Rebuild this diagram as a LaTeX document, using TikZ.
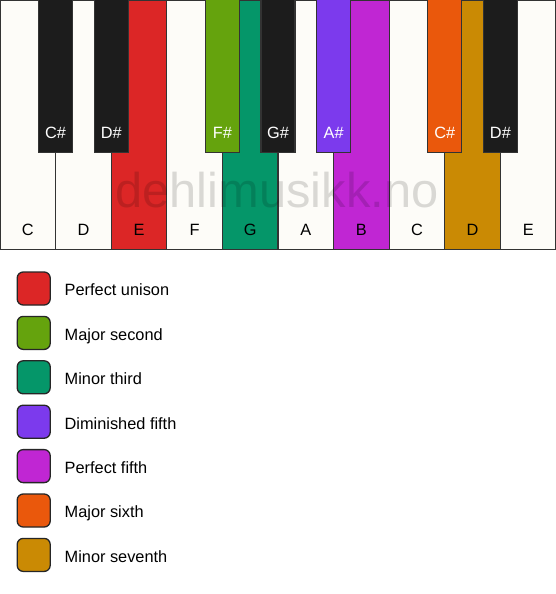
\documentclass[tikz,border=0pt]{standalone}
\usepackage{fontspec}
\setmainfont{Liberation Sans}
\begin{document}
\begin{tikzpicture}[x=1bp,y=-1bp,
  whitekey/.style={draw=black!80,line width=1.3bp,fill=keywhite},
  blackkey/.style={draw=black!80,line width=1.3bp,fill=keyblack},
  wlabel/.style={font=\fontsize{16.4}{18}\selectfont,text=black,anchor=base,inner sep=0pt},
  blabel/.style={font=\fontsize{16.4}{18}\selectfont,text=white,anchor=base,inner sep=0pt},
  legbox/.style={draw=black!85,line width=1.3bp,rounded corners=6bp,minimum width=33bp,minimum height=33bp,inner sep=0pt},
  legtext/.style={font=\fontsize{16.4}{18}\selectfont,anchor=base west,inner sep=0pt}]
\definecolor{keywhite}{HTML}{FDFCF8}
\definecolor{keyblack}{HTML}{1C1C1C}
\definecolor{ivred}{HTML}{DC2626}
\definecolor{ivlime}{HTML}{65A30D}
\definecolor{ivemerald}{HTML}{059669}
\definecolor{ivviolet}{HTML}{7C3AED}
\definecolor{ivfuchsia}{HTML}{C026D3}
\definecolor{ivorange}{HTML}{EA580C}
\definecolor{ivyellow}{HTML}{CA8A04}
\useasboundingbox (0,0) rectangle (556,594);
\fill[white] (0,0) rectangle (556,594);
% white keys
\def\w{55.6}
\foreach \i/\n/\c in {0/C/keywhite,1/D/keywhite,2/E/ivred,3/F/keywhite,4/G/ivemerald,5/A/keywhite,6/B/ivfuchsia,7/C/keywhite,8/D/ivyellow,9/E/keywhite}{
  \draw[whitekey,fill=\c] (\i*\w,0) rectangle ({(\i+1)*\w},249.5);
  \node[wlabel] (w\i) at ({(\i+0.5)*\w},235.8) {\n};
}
% watermark
\node[font=\fontsize{49}{50}\selectfont,text=black,opacity=0.14,anchor=base,inner sep=0pt] (wm) at (277,207) {dehlimusikk.no};
% black keys
\foreach \k/\n/\c in {1/C\#/keyblack,2/D\#/keyblack,4/F\#/ivlime,5/G\#/keyblack,6/A\#/ivviolet,8/C\#/ivorange,9/D\#/keyblack}{
  \draw[blackkey,fill=\c] ({\k*\w-17},-1) rectangle ({\k*\w+17},152.5);
  \node[blabel] (b\k) at ({\k*\w},139) {\n};
}
% legend
\foreach \j/\c/\t in {0/ivred/Perfect unison,1/ivlime/Major second,2/ivemerald/Minor third,3/ivviolet/Diminished fifth,4/ivfuchsia/Perfect fifth,5/ivorange/Major sixth,6/ivyellow/Minor seventh}{
  \node[legbox,fill=\c] (lb\j) at (33.7,{288.5+44.4*\j}) {};
  \node[legtext] (lt\j) at (64.5,{295.8+44.4*\j}) {\t};
}
\end{tikzpicture}
\end{document}
